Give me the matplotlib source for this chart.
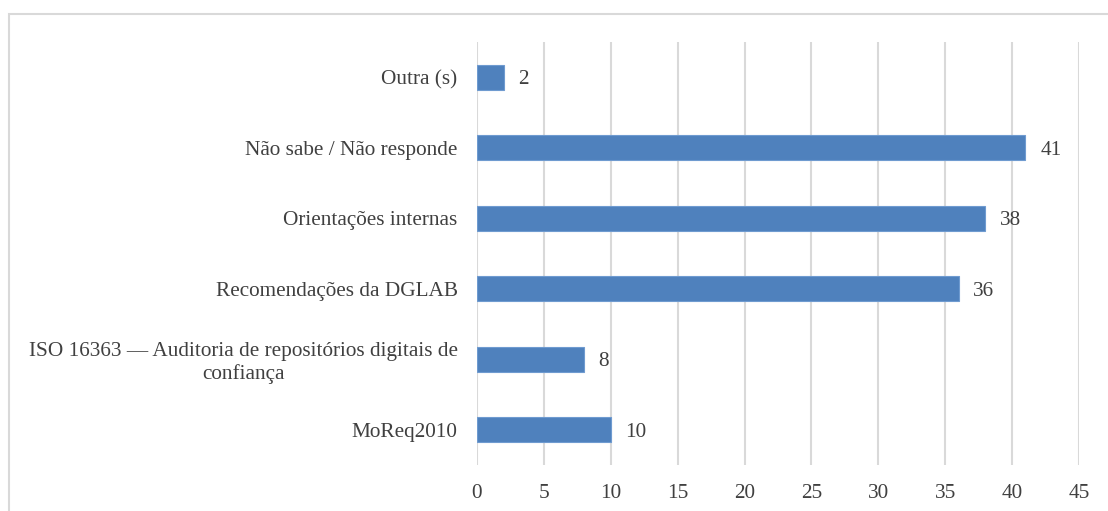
import matplotlib
matplotlib.use('Agg')
from matplotlib import pyplot as plt
from matplotlib.patches import Rectangle

############## Data ##############

categories = ['MoReq2010',
              'ISO 16363 — Auditoria de repositórios digitais de\nconfiança',
              'Recomendações da DGLAB',
              'Orientações internas',
              'Não sabe / Não responde',
              'Outra (s)']
values = [10, 8, 36, 38, 41, 2]
xticks = [0, 5, 10, 15, 20, 25, 30, 35, 40, 45]

plt.rcParams['font.family'] = ['Liberation Serif', 'DejaVu Serif']
text_col = '#404040'
fs = 15.3

fig = plt.figure(figsize=(11.08, 5.11), dpi=100)
ax = fig.add_axes([477/1108, 1 - 465/511, 602/1108, 423/511])

# Outer frame (cropped at right and bottom)
fig.patches.append(Rectangle((8.5/1108, -0.05), 1.2, 1 - 13.5/511 + 0.05,
                             transform=fig.transFigure, fill=False,
                             edgecolor='#d9d9d9', linewidth=1.5))

ypos = list(range(len(categories)))
ax.barh(ypos, values, height=0.35, color='#4f81bd', edgecolor='#6f9bd0',
        linewidth=0.8, zorder=3)

for y, v in zip(ypos, values):
    ax.text(v + 1.1, y, str(v), va='center_baseline', ha='left', fontsize=fs,
            color=text_col)

ax.set_xlim(0, 45)
ax.set_ylim(-0.5, 5.5)
ax.set_xticks(xticks)
ax.set_xticklabels([str(t) for t in xticks], fontsize=fs, color=text_col)
ax.set_yticks(ypos)
ax.set_yticklabels(categories, fontsize=fs, color=text_col,
                   multialignment='center')
ax.tick_params(axis='both', length=0)
ax.tick_params(axis='x', pad=14)
ax.tick_params(axis='y', pad=14)

ax.grid(True, axis='x', color='#d9d9d9', linewidth=1.5, zorder=0)
for s in ax.spines.values():
    s.set_visible(False)

plt.savefig('out.png', dpi=100)
